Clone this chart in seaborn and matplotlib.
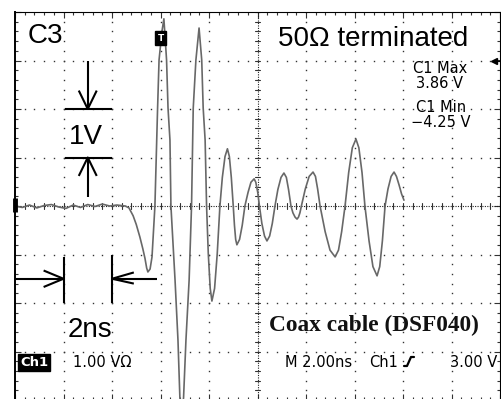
import numpy as np
import pandas as pd
import matplotlib
matplotlib.use("Agg")
import matplotlib.pyplot as plt
from matplotlib.lines import Line2D
import seaborn as sns

# ---------------- data ----------------
time_ns = [0.0, 0.3, 0.6, 0.9, 1.2, 1.5, 1.8, 2.1, 2.4, 2.7, 3.0, 3.3, 3.6, 3.9, 4.2, 4.55,
           4.70, 4.87, 5.00, 5.15, 5.27, 5.36, 5.43, 5.48, 5.57, 5.65, 5.77, 5.88, 5.94, 6.06, 6.14,
           6.25, 6.31, 6.39, 6.43, 6.60, 6.72, 6.80, 6.87, 6.95, 7.05, 7.18, 7.28,
           7.35, 7.46, 7.59, 7.70, 7.76, 7.84, 7.90, 7.97, 8.05, 8.12,
           8.23, 8.34, 8.45, 8.55, 8.66, 8.76, 8.84, 8.92, 9.00, 9.05, 9.10, 9.15,
           9.26, 9.37, 9.48, 9.61, 9.73, 9.86, 9.93, 10.01, 10.08, 10.18, 10.29, 10.39,
           10.50, 10.61, 10.72, 10.84, 10.97, 11.09, 11.19, 11.28, 11.38, 11.46, 11.55, 11.63,
           11.69, 11.75, 11.81, 11.97, 12.13, 12.29, 12.39, 12.48, 12.58, 12.79, 12.99, 13.20,
           13.34, 13.47, 13.61, 13.76, 13.91, 14.06, 14.18, 14.31, 14.43, 14.60, 14.76, 14.93,
           15.04, 15.15, 15.26, 15.38, 15.51, 15.63, 15.73, 15.84, 15.94, 16.04]
volts = [0.00, -0.03, 0.02, -0.04, 0.01, 0.03, -0.02, -0.05, 0.02, -0.03, 0.03, -0.01, 0.04, 0.00, 0.02, 0.00,
         -0.04, -0.20, -0.38, -0.64, -0.88, -1.08, -1.28, -1.36, -1.30, -1.05, 0.00, 2.02, 3.01, 3.60, 3.86,
         3.01, 2.02, 1.36, 0.00, -1.53, -2.76, -3.96, -4.25, -3.96, -2.76, -1.53, 0.00,
         2.02, 3.01, 3.67, 3.01, 2.02, 1.36, 0.00, -0.98, -1.70, -1.96,
         -1.70, -0.98, 0.00, 0.59, 1.02, 1.18, 1.02, 0.59, 0.00, -0.40, -0.69, -0.80,
         -0.69, -0.40, 0.00, 0.28, 0.49, 0.56, 0.49, 0.28, 0.00, -0.36, -0.62, -0.72,
         -0.62, -0.36, 0.00, 0.34, 0.59, 0.68, 0.59, 0.34, 0.00, -0.14, -0.23, -0.27,
         -0.23, -0.14, 0.00, 0.35, 0.61, 0.70, 0.61, 0.35, 0.00, -0.53, -0.91, -1.05,
         -0.91, -0.53, 0.00, 0.69, 1.20, 1.38, 1.20, 0.69, 0.00, -0.72, -1.25, -1.44,
         -1.25, -0.72, 0.00, 0.35, 0.61, 0.70, 0.61, 0.43, 0.25, 0.12]

title_left = "C3"
title_right = "50\u03a9 terminated"
meas_max = ["C1 Max", "3.86 V"]
meas_min = ["C1 Min", "\u22124.25 V"]
caption = "Coax cable (DSF040)"
vscale_label = "1V"
hscale_label = "2ns"
ch_label = "Ch1"
ch_scale = "1.00 V\u03a9"
timebase = "M 2.00ns"
trig_src = "Ch1"
trig_level = "3.00 V"

# scope geometry: 10 horizontal divisions of 2 ns, 8 vertical of 1 V
NS_PER_DIV = 2.0
V_PER_DIV = 1.0
X_MAX = 20.0
Y_MAX = 4.0
TRIG_V = 3.0

W, H = 502, 399
fig = plt.figure(figsize=(W / 100, H / 100), dpi=100)
sns.set_style("white")
plt.rcParams['font.family'] = ['Liberation Sans', 'DejaVu Sans']

ax = fig.add_axes([15 / W, (H - 400) / H, 485 / W, 388 / H])
ax.set_xlim(0, X_MAX)
ax.set_ylim(-Y_MAX, Y_MAX)
ax.set_facecolor("white")

# dotted graticule
dot_kw = dict(marker='s', ms=1.0, mew=0, color='#333333', ls='none')
for xv in np.arange(NS_PER_DIV, X_MAX, NS_PER_DIV):
    if abs(xv - X_MAX / 2) < 1e-6:
        continue
    ys = np.arange(-Y_MAX, Y_MAX + 1e-6, V_PER_DIV / 5)
    ax.plot(np.full_like(ys, xv), ys, **dot_kw)
for yv in np.arange(-Y_MAX + V_PER_DIV, Y_MAX, V_PER_DIV):
    if abs(yv) < 1e-6:
        continue
    xs = np.arange(0, X_MAX + 1e-6, NS_PER_DIV / 5)
    ax.plot(xs, np.full_like(xs, yv), **dot_kw)

# center cross with tick marks
ax.axhline(0, color='#222222', lw=0.8, ls=(0, (1, 1.2)))
ax.axvline(X_MAX / 2, color='#222222', lw=0.8, ls=(0, (1, 1.2)))
for xv in np.arange(0, X_MAX + 1e-6, NS_PER_DIV / 5):
    ax.plot([xv, xv], [-0.065, 0.065], color='#333333', lw=0.8)
for yv in np.arange(-Y_MAX, Y_MAX + 1e-6, V_PER_DIV / 5):
    ax.plot([X_MAX / 2 - 0.12, X_MAX / 2 + 0.12], [yv, yv], color='#333333', lw=0.8)

ax.set_xticks(np.arange(0, X_MAX + 1e-6, NS_PER_DIV))
ax.set_yticks(np.arange(-Y_MAX, Y_MAX + 1e-6, V_PER_DIV))
ax.set_xticks(np.arange(0, X_MAX + 1e-6, NS_PER_DIV / 5), minor=True)
ax.set_yticks(np.arange(-Y_MAX, Y_MAX + 1e-6, V_PER_DIV / 5), minor=True)
ax.tick_params(which='both', direction='in', top=True, right=True, bottom=True, left=True,
               labelbottom=False, labelleft=False, color='#333333', width=0.8)
ax.tick_params(which='major', length=4)
ax.tick_params(which='minor', length=2.5)
for s in ['top', 'right', 'bottom']:
    ax.spines[s].set_color('black')
    ax.spines[s].set_linewidth(0.8)
ax.spines['left'].set_color('black')
ax.spines['left'].set_linewidth(1.4)

# waveform
df = pd.DataFrame({"t": time_ns, "v": volts})
sns.lineplot(data=df, x="t", y="v", sort=False, estimator=None, color='#686868', lw=1.2, ax=ax)
ax.set_xlabel("")
ax.set_ylabel("")

# ground marker at left edge, trigger marker at right edge
ax.plot([0, 0], [-0.13, 0.16], color='black', lw=3.5, solid_capstyle='butt', clip_on=False)
ax.plot([X_MAX - 0.25], [TRIG_V], marker='<', ms=4, color='black', clip_on=False)
ax.plot([X_MAX - 0.25, X_MAX], [TRIG_V, TRIG_V], color='black', lw=1.2, clip_on=False)

# 1V scale annotation
ak = dict(color='black', lw=1.5, solid_capstyle='butt')
t_c = 3.0
ax.plot([t_c, t_c], [3.0, 2.0], **ak)
ax.plot([t_c - 0.37, t_c, t_c + 0.37], [2.38, 2.0, 2.38], **ak)
ax.plot([2.05, 4.0], [2.0, 2.0], **ak)
ax.plot([2.05, 4.0], [1.0, 1.0], **ak)
ax.plot([t_c, t_c], [1.0, 0.18], **ak)
ax.plot([t_c - 0.37, t_c, t_c + 0.37], [0.62, 1.0, 0.62], **ak)

# 2ns scale annotation
v_a = -1.5
ax.plot([2.0, 2.0], [-1.05, -2.0], **ak)
ax.plot([4.0, 4.0], [-1.02, -2.0], **ak)
ax.plot([0.0, 2.0], [v_a, v_a], **ak)
ax.plot([1.18, 2.0, 1.18], [v_a + 0.17, v_a, v_a - 0.17], **ak)
ax.plot([4.0, 5.86], [v_a, v_a], **ak)
ax.plot([4.9, 4.0, 4.9], [v_a + 0.13, v_a, v_a - 0.10], **ak)

# trigger point marker near first peak
ax.text(6.0, 3.46, "T", color='white', fontsize=6.5, fontweight='bold', ha='center', va='center',
        family='DejaVu Sans',
        bbox=dict(boxstyle='square,pad=0.25', fc='black', ec='black'))


def fx(x):
    return x / W


def fy(y):
    return 1 - y / H


fig.text(fx(28), fy(43), title_left, fontsize=20, ha='left', va='baseline', color='black')
fig.text(fx(278), fy(46), title_right, fontsize=20, ha='left', va='baseline', color='black')
fig.text(fx(86), fy(144), vscale_label, fontsize=20, ha='center', va='baseline', color='black')
fig.text(fx(90), fy(337), hscale_label, fontsize=20, ha='center', va='baseline', color='black')

fig.text(fx(440), fy(76), "\n".join(meas_max), fontsize=10.5, ha='center', va='center',
         multialignment='center', linespacing=0.92, family='DejaVu Sans', color='black')
fig.text(fx(441), fy(115), "\n".join(meas_min), fontsize=10.5, ha='center', va='center',
         multialignment='center', linespacing=0.92, family='DejaVu Sans', color='black')

fig.text(fx(374), fy(331), caption, fontsize=16.8, fontweight='bold', ha='center', va='baseline',
         family='Liberation Serif', color='#111111')

fig.text(fx(34), fy(366), ch_label, fontsize=9.5, fontweight='bold', ha='center', va='baseline',
         family='DejaVu Sans', color='white',
         bbox=dict(boxstyle='square,pad=0.12', fc='black', ec='black'))
fig.text(fx(73), fy(367), ch_scale, fontsize=10.5, ha='left', va='baseline',
         family='DejaVu Sans', color='black')
fig.text(fx(285), fy(367), timebase, fontsize=10.5, ha='left', va='baseline',
         family='DejaVu Sans', color='black')
fig.text(fx(369), fy(367), trig_src, fontsize=10.5, ha='left', va='baseline',
         family='DejaVu Sans', color='black')
fig.text(fx(497), fy(367), trig_level, fontsize=10.5, ha='right', va='baseline',
         family='DejaVu Sans', color='black')
# rising-edge slope symbol
fig.add_artist(Line2D([fx(404), fx(407), fx(411), fx(414)], [fy(366), fy(366), fy(357), fy(357)],
                      color='black', lw=1.6))

fig.savefig("out.png", dpi=100, facecolor='white')
